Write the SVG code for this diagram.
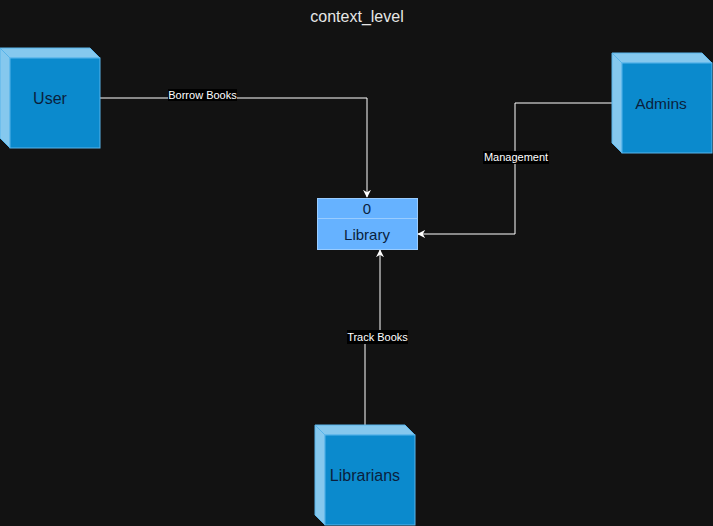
<svg xmlns="http://www.w3.org/2000/svg" width="713" height="526" viewBox="0 0 713 526">
<style>
.bg{fill:#121212}
.front{fill:#0b8acd;stroke:#58b4ea;stroke-width:1}
.side{fill:#85c8ee;stroke:#58b4ea;stroke-width:1}
.nt{font-family:"Liberation Sans",Arial,sans-serif;font-size:16px;fill:#0a1f3d;text-anchor:middle}
.lt{font-family:"Liberation Sans",Arial,sans-serif;font-size:15px;fill:#0a1f3d;text-anchor:middle}
.edge{fill:none;stroke:#ffffff;stroke-width:1}
.lbl{font-family:"Liberation Sans",Arial,sans-serif;font-size:11px;fill:#ffffff;text-anchor:middle}
.lblbg{fill:#000000}
</style>
<defs>
<marker id="arr" viewBox="0 0 10 10" refX="9" refY="5" markerWidth="8" markerHeight="8" markerUnits="userSpaceOnUse" orient="auto">
<path d="M0,0 L10,5 L0,10 L3,5 Z" fill="#ffffff"/>
</marker>
</defs>
<rect class="bg" x="0" y="0" width="713" height="526"/>
<text x="357" y="22" font-family="'Liberation Sans',Arial,sans-serif" font-size="16" fill="#e6e6e6" text-anchor="middle">context_level</text>

<g id="connectors">
<path class="edge" d="M100,98 H367 V197" marker-end="url(#arr)"/>
<path class="edge" d="M612,103 H515 V234 H418" marker-end="url(#arr)"/>
<path class="edge" d="M365,425 V344"/>
<path class="edge" d="M380,330 V250" marker-end="url(#arr)"/>
<rect class="lblbg" x="168" y="89" width="69" height="12"/>
<text class="lbl" x="202.5" y="99">Borrow Books</text>
<rect class="lblbg" x="483" y="151" width="66" height="13"/>
<text class="lbl" x="516" y="161">Management</text>
<rect class="lblbg" x="347" y="330" width="61" height="14"/>
<text class="lbl" x="377.5" y="341">Track Books</text>
</g>

<g id="user">
<path class="side" d="M0,48 H90 L100,58 H10 Z"/>
<path class="side" d="M0,48 L10,58 V148 L0,138 Z"/>
<rect class="front" x="10" y="58" width="90" height="90"/>
<text class="nt" x="50" y="104">User</text>
</g>

<g id="admins">
<path class="side" d="M612,53 H702 L712,63 H622 Z"/>
<path class="side" d="M612,53 L622,63 V153 L612,143 Z"/>
<rect class="front" x="622" y="63" width="90" height="90"/>
<text class="nt" x="661" y="109" style="font-size:15.5px">Admins</text>
</g>

<g id="librarians">
<path class="side" d="M315,425 H405 L415,435 H325 Z"/>
<path class="side" d="M315,425 L325,435 V525 L315,515 Z"/>
<rect class="front" x="325" y="435" width="90" height="90"/>
<text class="nt" x="365" y="481">Librarians</text>
</g>

<g id="library">
<rect x="317.5" y="198.5" width="100" height="51" fill="#66b2ff" stroke="#99ccff" stroke-width="1"/>
<line x1="317.5" y1="218.5" x2="417.5" y2="218.5" stroke="#99ccff" stroke-width="1"/>
<text class="lt" x="367" y="214">0</text>
<text class="lt" x="367" y="240">Library</text>
</g>
</svg>
